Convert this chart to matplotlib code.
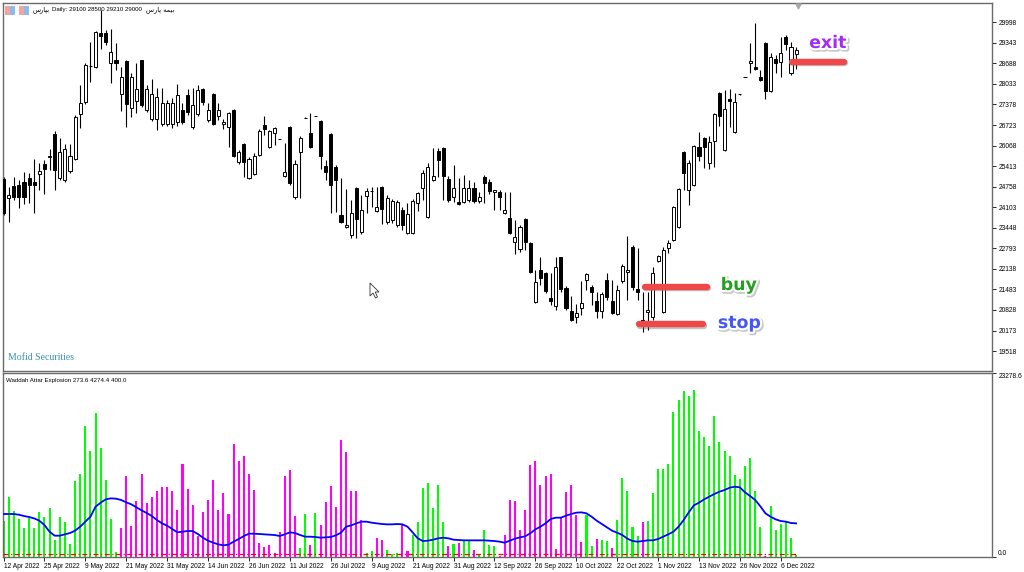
import matplotlib

matplotlib.use("Agg")

import matplotlib.pyplot as plt
import matplotlib.patheffects as pe
from matplotlib.patches import Polygon, Rectangle
import numpy as np

# daily candles, one per trading day (bar index 0..155)
opens = [25000, 24400, 24780, 24810, 24905, 25035, 24905, 25160, 25480, 25690,
         26435, 25035, 24970, 25260, 25640, 27075, 27455, 28590, 28575, 29655,
         29655, 28700, 28795, 27710, 28765, 27265, 27490, 28795, 27200, 26915,
         26915, 26755, 26755, 26755, 26820, 27200, 27680, 26660, 27075, 27870,
         26885, 27710, 27010, 26755, 26660, 27200, 25545, 26120, 25035, 25160,
         25770, 26725, 26025, 26470, 26270, 25100, 26660, 24430, 25865, 26940,
         26470, 27000, 26850, 25415, 26435, 25385, 23855, 23470, 23215, 24715,
         23315, 24460, 24605, 23980, 24745, 23630, 23695, 23535, 24015, 23280,
         23280, 24235, 24715, 23790, 24970, 25895, 25990, 25005, 24430, 24270,
         24270, 24335, 24715, 24300, 25065, 24905, 24590, 24590, 23920, 23760,
         22995, 22770, 23725, 22960, 21080, 22100, 22005, 21210, 20955, 22515,
         21530, 20795, 20605, 20890, 21785, 21560, 21115, 20795, 21785, 21115,
         20700, 21750, 22040, 22835, 21495, 20505, 20760, 20605, 22390, 20760,
         22805, 23060, 23470, 25865, 24650, 24810, 26025, 26310, 25515, 26215,
         27745, 25925, 27555, 26500, 27700, 28245, 28715, 28575, 28255, 29340,
         27810, 28830, 28730, 29530, 28380, 29000]
highs = [25065, 24745, 25065, 24970, 25225, 25195, 25640, 25515, 25608, 25960,
         26535, 26310, 26120, 26120, 27045, 28000, 28700, 29370, 29720, 30390,
         29755, 29785, 29340, 28575, 28795, 28380, 28700, 28795, 28000, 28190,
         27905, 27905, 27520, 27585, 28030, 27425, 27870, 27905, 28000, 27905,
         27425, 27745, 27425, 26915, 27140, 27235, 25925, 26150, 25705, 25830,
         26595, 27010, 26565, 26660, 26290, 26150, 26690, 25608, 26375, 26965,
         27105, 27025, 26885, 25608, 26470, 25450, 25035, 24685, 24335, 24745,
         24490, 24715, 24745, 24745, 24780, 24490, 24365, 24335, 24110, 24235,
         24365, 24590, 25290, 25515, 25990, 25990, 26025, 25100, 25450, 25035,
         25130, 24970, 24905, 24590, 25130, 25005, 24650, 24650, 24590, 24590,
         23695, 23535, 23760, 22995, 22100, 22515, 22040, 22005, 22515, 22515,
         21590, 21275, 21015, 21750, 22005, 21625, 21400, 21400, 22005, 21785,
         21625, 22290, 23185, 22900, 22805, 21400, 21400, 22195, 22580, 22835,
         23060, 24140, 24715, 25895, 25608, 26085, 26500, 26340, 26375, 27105,
         27775, 27840, 27870, 27745, 27720, 28265, 29340, 29975, 28475, 29370,
         29020, 28955, 29530, 29595, 29370, 29210]
lows = [23855, 23630, 24335, 24080, 24205, 24235, 23920, 24650, 24525, 25290,
        24650, 24970, 24905, 25195, 25608, 26630, 27395, 28095, 28540, 29145,
        29275, 28065, 28475, 27170, 26660, 26980, 27105, 27300, 27140, 26850,
        26565, 26690, 26690, 26630, 26690, 26755, 27045, 26595, 27010, 27360,
        26820, 26725, 26885, 26595, 26025, 25705, 25480, 25065, 25005, 25130,
        25735, 26405, 25990, 26085, 26265, 25065, 24810, 24365, 24395, 26935,
        25990, 26995, 25320, 24970, 23920, 23950, 23600, 23440, 23120, 23120,
        23250, 23920, 24110, 23950, 23570, 23570, 23600, 23470, 23375, 23250,
        23250, 23980, 24335, 23760, 24940, 25065, 24335, 24270, 24270, 24175,
        24235, 24270, 24235, 24235, 24235, 24525, 24015, 24015, 23885, 23250,
        22610, 22675, 22740, 22005, 21050, 21625, 21370, 20985, 20825, 21400,
        20825, 20475, 20410, 20665, 21465, 20985, 20570, 20570, 21145, 20700,
        20665, 21685, 21145, 21465, 21145, 20125, 20190, 20505, 22355, 20730,
        22645, 23025, 23440, 24650, 24175, 24780, 25575, 25355, 25320, 25385,
        26690, 25895, 26660, 26470, 27695, 28240, 28380, 28475, 28125, 27555,
        27775, 28380, 28255, 29115, 28320, 28500]
closes = [23920, 24490, 24430, 24430, 24430, 24810, 24810, 25260, 25320, 25720,
          25290, 25865, 25960, 25735, 26980, 27425, 28635, 28620, 29690, 29560,
          29370, 29050, 28700, 28255, 27395, 28255, 27870, 27360, 27870, 27710,
          27615, 27425, 27425, 27425, 27680, 26820, 27140, 27360, 27840, 27455,
          27200, 26755, 27200, 26820, 27105, 25735, 25865, 25545, 25640, 25735,
          26535, 26595, 26535, 26630, 26285, 25225, 24875, 25480, 26310, 26960,
          26025, 27020, 25735, 25225, 24810, 24970, 23630, 23535, 23920, 23725,
          24015, 24620, 24620, 24110, 24045, 24395, 24300, 24270, 23535, 23885,
          24300, 24555, 25195, 25385, 25100, 25608, 25100, 24335, 24715, 24205,
          24715, 24715, 24300, 24430, 24875, 24620, 24650, 24430, 24015, 23280,
          23155, 23470, 22995, 22040, 21720, 21845, 21430, 21115, 22195, 21495,
          20890, 20505, 20730, 21050, 21975, 21400, 20795, 21335, 21240, 20730,
          21465, 22230, 22100, 21560, 21400, 20445, 20825, 22005, 22550, 22740,
          22960, 24110, 24685, 25195, 25515, 26055, 25735, 26025, 26180, 27075,
          27010, 27235, 27490, 27455, 27715, 28260, 28750, 28510, 28160, 27810,
          28890, 28700, 29020, 29305, 29210, 29100]

# Waddah Attar Explosion: histogram, trend colour (g = up, m = down), explosion line
wae_hist = [4554, 7590, 5819, 4845, 3630, 4895, 3710, 5735, 5060, 6240,
            2150, 5060, 4385, 1645, 9570, 10460, 16610, 13450, 18220, 13790,
            9740, 4845, 630, 3630, 10290, 3960, 7045, 10540, 6830, 7550,
            8350, 8895, 8815, 8350, 5945, 11765, 8600, 6540, 2695, 5690,
            7250, 9780, 5945, 8060, 5440, 14295, 12105, 12780, 10540, 8475,
            1730, 1300, 1480, 545, 3200, 10245, 11005, 5225, 1175, 5440,
            1480, 5565, 4090, 6960, 8940, 6285, 14800, 13320, 8350, 8350,
            4640, 500, 760, 2400, 2150, 925, 380, 545, 4135, 760,
            2745, 4430, 8770, 9320, 6160, 9110, 4430, 1430, 1680, 1810,
            2025, 2025, 885, 300, 3455, 1560, 1430, 165, 2780, 7210,
            7045, 3455, 5985, 11600, 12105, 9150, 10290, 10460, 1010, 5060,
            8180, 9110, 5270, 1855, 5270, 1430, 2320, 2150, 2065, 1140,
            4680, 10035, 8310, 3835, 2655, 4385, 4595, 8095, 11130, 11130,
            11725, 18380, 19900, 21040, 20330, 21090, 15940, 15220, 14000, 17840,
            14510, 13410, 12740, 10370, 9870, 11510, 12560, 8350, 3795, 150,
            6450, 3455, 4135, 4555, 2400, 215]
wae_trend = ("gggggggggg" "gggggggggg" "gggmmmmmmm" "mmmmmmmmmm" "mmmmmmmmmm"
             "mmmmmmmmgg" "mgmmmmmmmm" "mggmmgggmm" "gggggggmgm" "ggmggggmmm"
             "mmmmmmmmmm" "mmmmggmggm" "gggggmgggg" "gggggggggg" "gggggggggm"
             "gggggg")
wae_line = [5438, 5438, 5438, 5354, 5185, 5058, 4890, 4595, 4046, 3203,
            2697, 2697, 2866, 3034, 3330, 3835, 4468, 5100, 6365, 6871,
            7293, 7420, 7378, 7209, 6914, 6661, 6282, 5902, 5565, 5185,
            4679, 4257, 3962, 3540, 3118, 3203, 3287, 3287, 2908, 2444,
            2064, 1811, 1600, 1474, 1558, 1938, 2275, 2655, 2950, 2950,
            2908, 2866, 2824, 2782, 2655, 2866, 3118, 3034, 2782, 2570,
            2570, 2528, 2444, 2486, 2528, 2740, 3076, 3835, 4004, 4257,
            4468, 4468, 4341, 4257, 4173, 4131, 4131, 4173, 4131, 3835,
            3118, 2360, 2022, 2064, 2191, 2360, 2444, 2360, 2191, 2149,
            2106, 2106, 2106, 2106, 2106, 2064, 2022, 1938, 1811, 2064,
            2317, 2486, 2613, 2992, 3498, 3835, 4257, 4806, 4975, 4975,
            5227, 5438, 5607, 5649, 5522, 5100, 4595, 4173, 3751, 3330,
            3076, 2782, 2317, 2022, 1938, 2022, 2106, 2106, 2275, 2570,
            2866, 3203, 3835, 4679, 5649, 6534, 6871, 7293, 7630, 7968,
            8263, 8474, 8770, 8896, 8812, 8179, 7715, 7209, 6408, 5522,
            5100, 4763, 4552, 4468, 4300, 4257]
wae_deadzone = 400.0
wae_max = 23278.6

price_ticks = [19518, 20173, 20828, 21483, 22138, 22793, 23448, 24103, 24758,
               25413, 26068, 26723, 27378, 28033, 28688, 29343, 29998]
date_labels = ["12 Apr 2022", "25 Apr 2022", "9 May 2022", "21 May 2022", "31 May 2022",
               "14 Jun 2022", "26 Jun 2022", "11 Jul 2022", "26 Jul 2022", "9 Aug 2022",
               "21 Aug 2022", "31 Aug 2022", "12 Sep 2022", "26 Sep 2022", "10 Oct 2022",
               "22 Oct 2022", "1 Nov 2022", "13 Nov 2022", "26 Nov 2022", "6 Dec 2022"]

# header texts (persian written in display order with joined letter forms)
symbol_name = "\uFEB1\uFEAD\uFE8E\uFB59\uFE91"
symbol_desc = "\uFEB1\uFEAD\uFE8E\uFB58 \uFEEA\uFEE4\uFBFF\uFE91"
header_ohlc = "Daily: 29100 28500 29210 29000"

# trade marks drawn on the chart: (label, price, bar from, bar to, text bar, text price, colour)
buy_price, stop_price, exit_price = 21570, 20380, 28745
marks = [
    ("buy", buy_price, 125.4, 137.5, 143.8, 21623, "#22a022"),
    ("stop", stop_price, 124.2, 136.8, 143.9, 20412, "#4558f2"),
    ("exit", exit_price, 154.2, 164.3, 161.2, 29338, "#a22cf2"),
]

W, H = 1024, 572
TICK_FONT = ["Liberation Sans", "DejaVu Sans"]


def px_box(left, top, right, bottom):
    return [left / W, 1 - bottom / H, (right - left) / W, (bottom - top) / H]


def px_pts(points):
    return [(px / W, 1 - py / H) for px, py in points]


def style_frame(axis):
    for spine in axis.spines.values():
        spine.set_color("#6a6a6a")
        spine.set_linewidth(1.0)


fig = plt.figure(figsize=(W / 100, H / 100), dpi=100)
fig.patch.set_facecolor("white")

ax = fig.add_axes(px_box(3, 3, 992, 371))
ax2 = fig.add_axes(px_box(3, 373, 992, 557), sharex=ax)

x = np.arange(len(opens))
o = np.array(opens)
c = np.array(closes)
bull = c >= o

ax.vlines(x, lows, highs, color="black", linewidth=0.8, zorder=2)
ax.bar(x, np.maximum(np.abs(c - o), 12), bottom=np.minimum(o, c), width=0.6,
       color=np.where(bull, "white", "black"), edgecolor="black", linewidth=0.7, zorder=3)

ax.set_xlim(-0.1, 193.3)
ax.set_ylim(18882, 30613)
ax.yaxis.tick_right()
ax.set_yticks(price_ticks)
ax.set_yticklabels([str(t) for t in price_ticks])
ax.tick_params(axis="y", direction="out", length=3, width=0.6, pad=1.5, labelsize=4.8)
ax.tick_params(axis="x", bottom=False, labelbottom=False)
for lab in ax.get_yticklabels():
    lab.set_family(TICK_FONT)
style_frame(ax)

# chart shift marker just under the top frame, above the last bar
ax.plot([x[-1] + 0.3], [0.993], marker="v", markersize=3.5, color="#a8a8a8",
        transform=ax.get_xaxis_transform(), clip_on=False, zorder=7)

# red trade lines with annotations
line_fx = [pe.SimpleLineShadow(offset=(0.8, -1.2), shadow_color="#777777", alpha=0.45), pe.Normal()]
text_fx = [pe.Stroke(linewidth=3.5, foreground="#c8c8c8", offset=(0.9, -0.9)),
           pe.Stroke(linewidth=3, foreground="white"), pe.Normal()]
for label, price, x0, x1, tx, ty, col in marks:
    ax.plot([x0, x1], [price, price], color="#f04848", linewidth=4.6,
            solid_capstyle="round", zorder=5, path_effects=line_fx)
    ax.text(tx, ty, label, color=col, fontsize=12.5, fontweight="bold", family="DejaVu Sans",
            ha="center", va="center", zorder=6, path_effects=text_fx)

# header: two small icons, symbol, ohlc and description
for left in [5, 19]:
    fig.patches.append(Rectangle((left / W, 1 - 15 / H), 5 / W, 9 / H, transform=fig.transFigure,
                                 facecolor="#f3a3a6", edgecolor="none"))
    fig.patches.append(Rectangle(((left + 5) / W, 1 - 15 / H), 5 / W, 9 / H, transform=fig.transFigure,
                                 facecolor="#8dbbe8", edgecolor="none"))
fig.text(33 / W, 1 - 10 / H, symbol_name, fontsize=4.8, family=["DejaVu Sans"], va="center", ha="left")
fig.text(52 / W, 1 - 10 / H, header_ohlc, fontsize=4.4, family=TICK_FONT, va="center", ha="left")
fig.text(146 / W, 1 - 10 / H, symbol_desc, fontsize=4.8, family=["DejaVu Sans"], va="center", ha="left")

ax.text(0.005, 0.038, "Mofid Securities", transform=ax.transAxes, fontsize=7,
        family=["Liberation Serif", "DejaVu Serif"], color="#3a8fae", va="center", ha="left")

# mouse pointer left on the chart
cursor = [(370, 283), (370, 296), (373, 293), (375.5, 298), (377.5, 297), (375.2, 292), (379, 292)]
fig.patches.append(Polygon(px_pts(cursor), closed=True, transform=fig.transFigure,
                           facecolor="white", edgecolor="#333333", linewidth=0.6, zorder=8))

# indicator panel
ax2.bar(x, wae_hist, width=0.4, color=["#00ff00" if t == "g" else "#ff00ff" for t in wae_trend],
        zorder=2)
ax2.plot(x, wae_line, color="#0000ff", linewidth=1.3, zorder=3)
ax2.hlines(wae_deadzone, -0.1, x[-1] + 0.2, colors="#ff0000", linewidth=0.9,
           linestyles=(0, (4, 2, 1, 2)), zorder=4)
ax2.set_ylim(0, wae_max)
ax2.yaxis.tick_right()
ax2.set_yticks([0, wae_max])
ax2.set_yticklabels(["0.0", "23278.6"])
ax2.tick_params(axis="y", direction="out", length=3, width=0.6, pad=1.5, labelsize=4.8)
ylabs = ax2.get_yticklabels()
ylabs[0].set_va("bottom")
ylabs[1].set_va("top")
for lab in ylabs:
    lab.set_family(TICK_FONT)

ax2.set_xticks(np.arange(0, len(opens), 8))
ax2.set_xticklabels(date_labels)
ax2.tick_params(axis="x", direction="out", length=3, width=0.6, pad=1, labelsize=4.8)
for lab in ax2.get_xticklabels():
    lab.set_ha("left")
    lab.set_family(TICK_FONT)
style_frame(ax2)

ax2.text(0.003, 0.975, "Waddah Attar Explosion 273.6 4274.4 400.0", transform=ax2.transAxes,
         fontsize=4.4, family=TICK_FONT, va="top", ha="left")

fig.savefig("out.png", dpi=100)
plt.close(fig)
